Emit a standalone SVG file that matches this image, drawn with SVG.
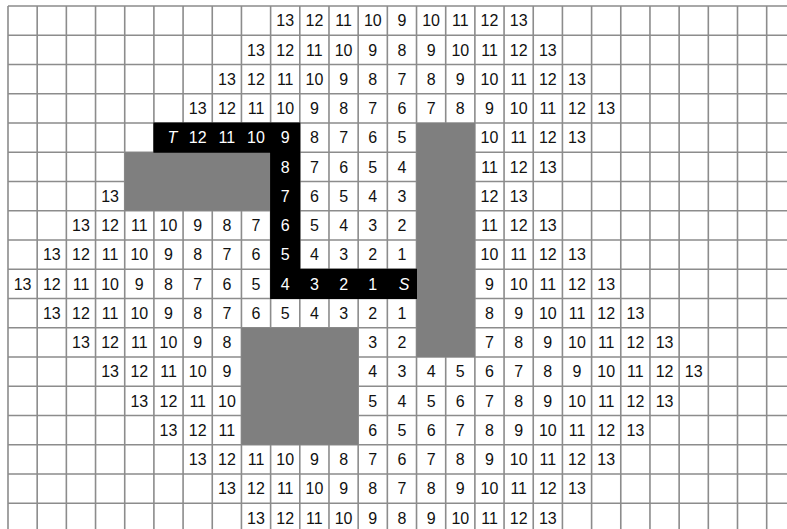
<svg xmlns="http://www.w3.org/2000/svg" width="787" height="529" viewBox="0 0 787 529">
<style>
text{font-family:"Liberation Sans",Arial,sans-serif;font-size:16px;text-anchor:middle;fill:#111}
.w{fill:#fff}
.i{font-style:italic}
.grid{stroke:#8c8c8c;stroke-width:1.6;fill:none}
.obs{fill:#7f7f7f}
.path{fill:#000}
</style>
<rect width="787" height="529" fill="#fff"/>
<g id="grid">
<path class="grid" d="M8 6V529M37.18 6V529M66.36 6V529M95.54 6V529M124.72 6V529M153.9 6V529M183.08 6V529M212.26 6V529M241.44 6V529M270.62 6V529M299.8 6V529M328.98 6V529M358.16 6V529M387.34 6V529M416.52 6V529M445.7 6V529M474.88 6V529M504.06 6V529M533.24 6V529M562.42 6V529M591.6 6V529M620.78 6V529M649.96 6V529M679.14 6V529M708.32 6V529M737.5 6V529M766.68 6V529M8 6H787M8 35.25H787M8 64.5H787M8 93.75H787M8 123H787M8 152.25H787M8 181.5H787M8 210.75H787M8 240H787M8 269.25H787M8 298.5H787M8 327.75H787M8 357H787M8 386.25H787M8 415.5H787M8 444.75H787M8 474H787M8 503.25H787"/>
</g>
<g id="obstacles">
<rect class="obs" x="124.72" y="152.25" width="145.9" height="58.5"/>
<rect class="obs" x="416.52" y="123" width="58.36" height="234"/>
<rect class="obs" x="241.44" y="327.75" width="116.72" height="117"/>
</g>
<g id="route">
<path class="path" d="M153.4 122.5H300.3V268.75H417V299H270.1V152.75H153.4Z"/>
</g>
<g id="numbers">
<g transform="translate(0,26.4)"><text x="285.2">13</text><text x="314.4">12</text><text x="343.6">11</text><text x="372.8">10</text><text x="401.9">9</text><text x="431.1">10</text><text x="460.3">11</text><text x="489.5">12</text><text x="518.7">13</text></g>
<g transform="translate(0,55.7)"><text x="256">13</text><text x="285.2">12</text><text x="314.4">11</text><text x="343.6">10</text><text x="372.8">9</text><text x="401.9">8</text><text x="431.1">9</text><text x="460.3">10</text><text x="489.5">11</text><text x="518.7">12</text><text x="547.8">13</text></g>
<g transform="translate(0,84.9)"><text x="226.9">13</text><text x="256">12</text><text x="285.2">11</text><text x="314.4">10</text><text x="343.6">9</text><text x="372.8">8</text><text x="401.9">7</text><text x="431.1">8</text><text x="460.3">9</text><text x="489.5">10</text><text x="518.7">11</text><text x="547.8">12</text><text x="577">13</text></g>
<g transform="translate(0,114.2)"><text x="197.7">13</text><text x="226.9">12</text><text x="256">11</text><text x="285.2">10</text><text x="314.4">9</text><text x="343.6">8</text><text x="372.8">7</text><text x="401.9">6</text><text x="431.1">7</text><text x="460.3">8</text><text x="489.5">9</text><text x="518.7">10</text><text x="547.8">11</text><text x="577">12</text><text x="606.2">13</text></g>
<g transform="translate(0,143.4)"><text class="w i" x="172.5">T</text><text class="w" x="197.7">12</text><text class="w" x="226.9">11</text><text class="w" x="256">10</text><text class="w" x="285.2">9</text><text x="314.4">8</text><text x="343.6">7</text><text x="372.8">6</text><text x="401.9">5</text><text x="489.5">10</text><text x="518.7">11</text><text x="547.8">12</text><text x="577">13</text></g>
<g transform="translate(0,172.7)"><text class="w" x="285.2">8</text><text x="314.4">7</text><text x="343.6">6</text><text x="372.8">5</text><text x="401.9">4</text><text x="489.5">11</text><text x="518.7">12</text><text x="547.8">13</text></g>
<g transform="translate(0,201.9)"><text x="110.1">13</text><text class="w" x="285.2">7</text><text x="314.4">6</text><text x="343.6">5</text><text x="372.8">4</text><text x="401.9">3</text><text x="489.5">12</text><text x="518.7">13</text></g>
<g transform="translate(0,231.2)"><text x="81">13</text><text x="110.1">12</text><text x="139.3">11</text><text x="168.5">10</text><text x="197.7">9</text><text x="226.9">8</text><text x="256">7</text><text class="w" x="285.2">6</text><text x="314.4">5</text><text x="343.6">4</text><text x="372.8">3</text><text x="401.9">2</text><text x="489.5">11</text><text x="518.7">12</text><text x="547.8">13</text></g>
<g transform="translate(0,260.4)"><text x="51.8">13</text><text x="81">12</text><text x="110.1">11</text><text x="139.3">10</text><text x="168.5">9</text><text x="197.7">8</text><text x="226.9">7</text><text x="256">6</text><text class="w" x="285.2">5</text><text x="314.4">4</text><text x="343.6">3</text><text x="372.8">2</text><text x="401.9">1</text><text x="489.5">10</text><text x="518.7">11</text><text x="547.8">12</text><text x="577">13</text></g>
<g transform="translate(0,289.7)"><text x="22.6">13</text><text x="51.8">12</text><text x="81">11</text><text x="110.1">10</text><text x="139.3">9</text><text x="168.5">8</text><text x="197.7">7</text><text x="226.9">6</text><text x="256">5</text><text class="w" x="285.2">4</text><text class="w" x="314.4">3</text><text class="w" x="343.6">2</text><text class="w" x="372.8">1</text><text class="w i" x="404">S</text><text x="489.5">9</text><text x="518.7">10</text><text x="547.8">11</text><text x="577">12</text><text x="606.2">13</text></g>
<g transform="translate(0,318.9)"><text x="51.8">13</text><text x="81">12</text><text x="110.1">11</text><text x="139.3">10</text><text x="168.5">9</text><text x="197.7">8</text><text x="226.9">7</text><text x="256">6</text><text x="285.2">5</text><text x="314.4">4</text><text x="343.6">3</text><text x="372.8">2</text><text x="401.9">1</text><text x="489.5">8</text><text x="518.7">9</text><text x="547.8">10</text><text x="577">11</text><text x="606.2">12</text><text x="635.4">13</text></g>
<g transform="translate(0,348.2)"><text x="81">13</text><text x="110.1">12</text><text x="139.3">11</text><text x="168.5">10</text><text x="197.7">9</text><text x="226.9">8</text><text x="372.8">3</text><text x="401.9">2</text><text x="489.5">7</text><text x="518.7">8</text><text x="547.8">9</text><text x="577">10</text><text x="606.2">11</text><text x="635.4">12</text><text x="664.6">13</text></g>
<g transform="translate(0,377.4)"><text x="110.1">13</text><text x="139.3">12</text><text x="168.5">11</text><text x="197.7">10</text><text x="226.9">9</text><text x="372.8">4</text><text x="401.9">3</text><text x="431.1">4</text><text x="460.3">5</text><text x="489.5">6</text><text x="518.7">7</text><text x="547.8">8</text><text x="577">9</text><text x="606.2">10</text><text x="635.4">11</text><text x="664.6">12</text><text x="693.7">13</text></g>
<g transform="translate(0,406.7)"><text x="139.3">13</text><text x="168.5">12</text><text x="197.7">11</text><text x="226.9">10</text><text x="372.8">5</text><text x="401.9">4</text><text x="431.1">5</text><text x="460.3">6</text><text x="489.5">7</text><text x="518.7">8</text><text x="547.8">9</text><text x="577">10</text><text x="606.2">11</text><text x="635.4">12</text><text x="664.6">13</text></g>
<g transform="translate(0,435.9)"><text x="168.5">13</text><text x="197.7">12</text><text x="226.9">11</text><text x="372.8">6</text><text x="401.9">5</text><text x="431.1">6</text><text x="460.3">7</text><text x="489.5">8</text><text x="518.7">9</text><text x="547.8">10</text><text x="577">11</text><text x="606.2">12</text><text x="635.4">13</text></g>
<g transform="translate(0,465.2)"><text x="197.7">13</text><text x="226.9">12</text><text x="256">11</text><text x="285.2">10</text><text x="314.4">9</text><text x="343.6">8</text><text x="372.8">7</text><text x="401.9">6</text><text x="431.1">7</text><text x="460.3">8</text><text x="489.5">9</text><text x="518.7">10</text><text x="547.8">11</text><text x="577">12</text><text x="606.2">13</text></g>
<g transform="translate(0,494.4)"><text x="226.9">13</text><text x="256">12</text><text x="285.2">11</text><text x="314.4">10</text><text x="343.6">9</text><text x="372.8">8</text><text x="401.9">7</text><text x="431.1">8</text><text x="460.3">9</text><text x="489.5">10</text><text x="518.7">11</text><text x="547.8">12</text><text x="577">13</text></g>
<g transform="translate(0,523.7)"><text x="256">13</text><text x="285.2">12</text><text x="314.4">11</text><text x="343.6">10</text><text x="372.8">9</text><text x="401.9">8</text><text x="431.1">9</text><text x="460.3">10</text><text x="489.5">11</text><text x="518.7">12</text><text x="547.8">13</text></g>
</g>
</svg>
